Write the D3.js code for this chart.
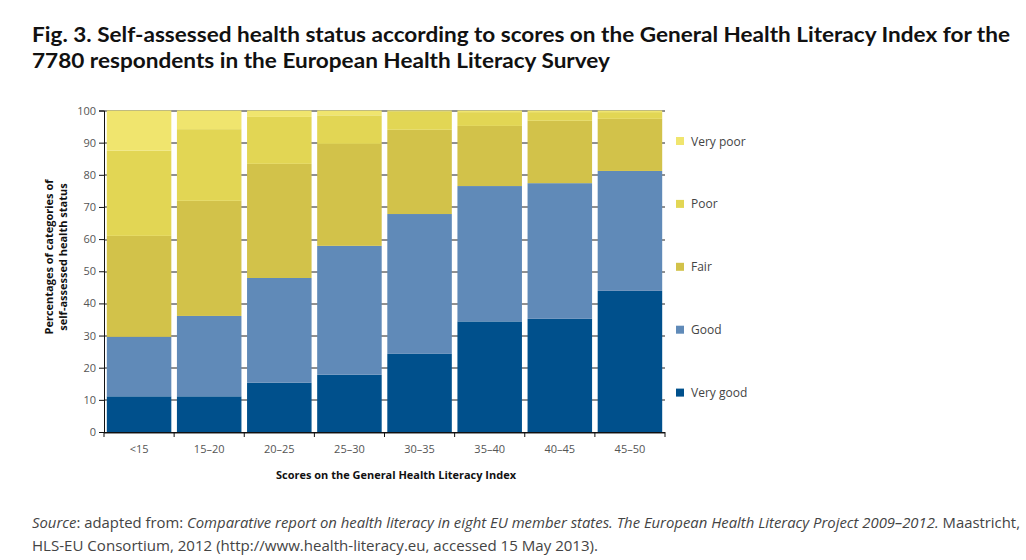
<!DOCTYPE html>
<html>
<head>
<meta charset="utf-8">
<script src="https://cdn.jsdelivr.net/npm/d3@7"></script>
<style>
  body { margin: 0; background: #fff; }
  svg { display: block; }
</style>
</head>
<body>
<svg id="chart"></svg>
<script>
// categories (score bands) and series, bottom to top
var scoreBands = ["<15", "15\u201320", "20\u201325", "25\u201330", "30\u201335", "35\u201340", "40\u201345", "45\u201350"];
var healthCats = ["Very good", "Good", "Fair", "Poor", "Very poor"];

var veryGood = [11.1, 11.1, 15.3, 17.8, 24.3, 34.4, 35.2, 43.9];
var good     = [18.5, 25.0, 32.6, 40.1, 43.5, 42.1, 42.2, 37.3];
var fair     = [31.4, 35.8, 35.5, 31.7, 26.2, 18.7, 19.4, 16.2];
var poor     = [26.5, 22.3, 14.6, 8.9, 5.6, 4.3, 2.7, 2.1];
var veryPoor = [12.5, 5.8, 2.0, 1.5, 0.4, 0.5, 0.5, 0.5];

var yTicks = [0, 10, 20, 30, 40, 50, 60, 70, 80, 90, 100];

var colors = ["#00508c", "#608ab8", "#d2c24a", "#e2d654", "#f0e56e"];

var W = 1026, H = 560;
var margin = { top: 110.5, left: 104, right: 361, bottom: 128 };
var width = W - margin.left - margin.right,
    height = H - margin.top - margin.bottom;

var svg = d3.select("#chart").attr("width", W).attr("height", H);

// build table for stack
var rows = scoreBands.map(function(b, i) {
  return { band: b, "Very good": veryGood[i], "Good": good[i], "Fair": fair[i], "Poor": poor[i], "Very poor": veryPoor[i] };
});
var series = d3.stack().keys(healthCats)(rows);

var x = d3.scaleBand().domain(scoreBands).range([0, width]).padding(0);
var y = d3.scaleLinear().domain([0, 100]).range([height, 0]);
var color = d3.scaleOrdinal().domain(healthCats).range(colors);

/* title */
var title = svg.append("g").attr("font-family", "Lato, 'Open Sans', sans-serif")
  .attr("font-weight", "bold").attr("font-size", 21).attr("fill", "#111");
title.append("text").attr("x", 32).attr("y", 42).attr("textLength", 978).attr("lengthAdjust", "spacingAndGlyphs")
  .text("Fig. 3. Self-assessed health status according to scores on the General Health Literacy Index for the");
title.append("text").attr("x", 32).attr("y", 68).attr("textLength", 578).attr("lengthAdjust", "spacingAndGlyphs")
  .text("7780 respondents in the European Health Literacy Survey");

var g = svg.append("g").attr("transform", "translate(" + margin.left + "," + margin.top + ")");

/* grid lines, only visible in the gaps between bars */
g.append("g").selectAll("line")
  .data(yTicks)
  .enter().append("line")
  .attr("x1", 0).attr("x2", width)
  .attr("y1", function(d) { return Math.round(y(d)) + 0.5; })
  .attr("y2", function(d) { return Math.round(y(d)) + 0.5; })
  .attr("stroke", "#222").attr("stroke-width", 1);

/* bars */
var inset = 2.8;
g.append("g").selectAll("g")
  .data(series)
  .enter().append("g")
  .attr("fill", function(d) { return color(d.key); })
  .selectAll("rect")
  .data(function(d) { return d; })
  .enter().append("rect")
  .attr("x", function(d) { return x(d.data.band) + inset; })
  .attr("width", x.bandwidth() - 2 * inset)
  .attr("y", function(d) { return y(d[1]); })
  .attr("height", function(d) { return y(d[0]) - y(d[1]); });

/* y axis */
var yAxis = g.append("g")
  .call(d3.axisLeft(y).tickValues(yTicks).tickSize(5).tickPadding(3));
yAxis.select(".domain").attr("stroke", "#111");
yAxis.selectAll(".tick line").attr("stroke", "#111");
yAxis.selectAll("text").attr("font-family", "'Open Sans', sans-serif").attr("font-size", 11).attr("fill", "#555");

/* x axis: ticks on band boundaries */
var xAxisG = g.append("g").attr("transform", "translate(0," + height + ")");
xAxisG.append("line").attr("x1", 0).attr("x2", width).attr("y1", 0.5).attr("y2", 0.5).attr("stroke", "#111");
var bounds = scoreBands.map(function(b) { return x(b); }).concat([width]);
xAxisG.selectAll(".xtick").data(bounds).enter().append("line")
  .attr("class", "xtick")
  .attr("x1", function(d) { return d; }).attr("x2", function(d) { return d; })
  .attr("y1", 0).attr("y2", 5).attr("stroke", "#111");
xAxisG.selectAll(".xlab").data(scoreBands).enter().append("text")
  .attr("class", "xlab")
  .attr("x", function(d) { return x(d) + x.bandwidth() / 2; })
  .attr("y", 21)
  .attr("text-anchor", "middle")
  .attr("font-family", "'Open Sans', sans-serif").attr("font-size", 11).attr("fill", "#555")
  .text(function(d) { return d; });

/* axis titles */
svg.append("text")
  .attr("x", 396).attr("y", 479)
  .attr("text-anchor", "middle")
  .attr("font-family", "'Open Sans', sans-serif").attr("font-weight", "bold").attr("font-size", 11).attr("fill", "#111")
  .attr("textLength", 240).attr("lengthAdjust", "spacingAndGlyphs")
  .text("Scores on the General Health Literacy Index");

var yTitle = svg.append("text")
  .attr("transform", "translate(53,257) rotate(-90)")
  .attr("text-anchor", "middle")
  .attr("font-family", "'Open Sans', sans-serif").attr("font-weight", "bold").attr("font-size", 11).attr("fill", "#111");
yTitle.append("tspan").attr("x", 0).attr("y", 0).text("Percentages of categories of");
yTitle.append("tspan").attr("x", 0).attr("y", 14).text("self-assessed health status");

/* legend, top to bottom */
var legendItems = healthCats.slice().reverse();
var legend = svg.append("g").selectAll("g")
  .data(legendItems)
  .enter().append("g")
  .attr("transform", function(d, i) { return "translate(676," + (141 + i * 62.9) + ")"; });
legend.append("rect").attr("x", 0).attr("y", -4).attr("width", 8).attr("height", 8)
  .attr("fill", function(d) { return color(d); });
legend.append("text").attr("x", 15).attr("y", 4.5)
  .attr("font-family", "'Open Sans', sans-serif").attr("font-size", 12).attr("fill", "#444")
  .text(function(d) { return d; });

/* source note */
var note = svg.append("g").attr("font-family", "'Liberation Sans Narrow', 'Open Sans', sans-serif")
  .attr("font-size", 15).attr("fill", "#444");
var l1 = note.append("text").attr("x", 32).attr("y", 528).attr("textLength", 988).attr("lengthAdjust", "spacingAndGlyphs");
l1.append("tspan").attr("font-style", "italic").text("Source");
l1.append("tspan").text(": adapted from: ");
l1.append("tspan").attr("font-style", "italic").text("Comparative report on health literacy in eight EU member states. The European Health Literacy Project 2009\u20132012.");
l1.append("tspan").text(" Maastricht,");
note.append("text").attr("x", 32).attr("y", 551).attr("textLength", 566).attr("lengthAdjust", "spacingAndGlyphs")
  .text("HLS-EU Consortium, 2012 (http://www.health-literacy.eu, accessed 15 May 2013).");
</script>
</body>
</html>
